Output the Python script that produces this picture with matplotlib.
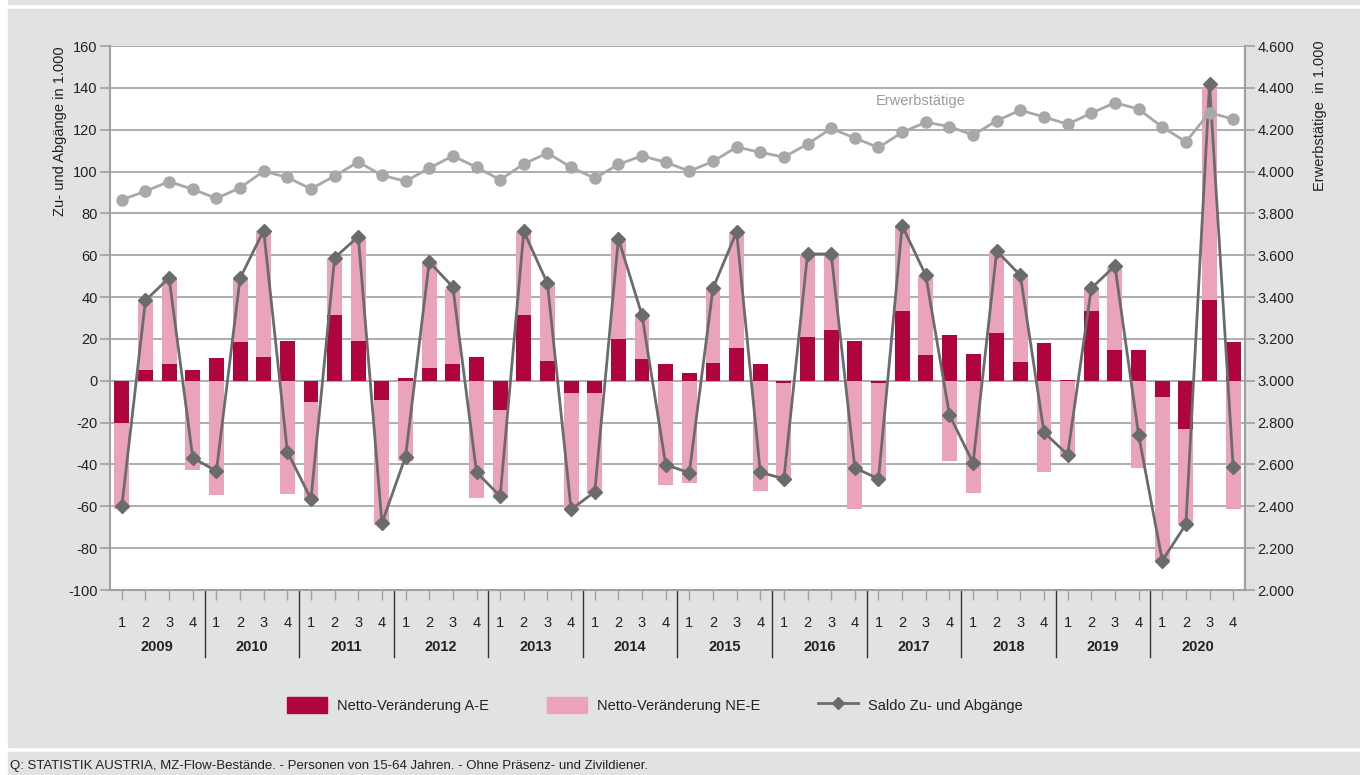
import numpy as np
import matplotlib
matplotlib.use("Agg")
from matplotlib import pyplot as plt
from matplotlib import ticker as tck
from matplotlib.patches import Rectangle
from matplotlib.lines import Line2D
from matplotlib.transforms import blended_transform_factory

plt.rcParams['font.family'] = ['Liberation Sans Narrow', 'Liberation Sans', 'DejaVu Sans']
plt.rcParams['axes.unicode_minus'] = False

"""Data, read off the picture (in 1.000)"""

years = ["2009", "2010", "2011", "2012", "2013", "2014",
         "2015", "2016", "2017", "2018", "2019", "2020"]
quarters = ["1", "2", "3", "4"]

# Netto-Veränderung A-E
ae = [-20.2, 5.0, 8.2, 5.0,
      10.7, 18.3, 11.5, 18.8,
      -10.3, 31.3, 18.8, -9.1,
      1.1, 5.9, 8.2, 11.5,
      -14.2, 31.3, 9.4, -6.0,
      -6.0, 19.9, 10.3, 8.2,
      3.9, 8.7, 15.5, 8.2,
      -1.2, 20.8, 24.2, 19.2,
      -1.2, 33.2, 12.1, 21.7,
      12.8, 22.9, 9.2, 18.1,
      0.5, 33.2, 14.9, 14.9,
      -7.6, -22.9, 38.5, 18.5]

# Netto-Veränderung NE-E
ne = [-40.9, 33.0, 40.5, -42.5,
      -54.4, 30.7, 60.2, -54.0,
      -46.7, 27.2, 49.7, -59.9,
      -38.4, 50.3, 35.7, -55.8,
      -41.6, 39.8, 36.8, -56.0,
      -48.0, 46.9, 20.6, -49.6,
      -48.7, 35.2, 55.4, -52.6,
      -46.0, 39.8, 36.4, -61.5,
      -46.0, 40.3, 38.0, -38.4,
      -53.5, 38.7, 41.2, -43.7,
      -36.6, 10.7, 39.6, -41.6,
      -79.2, -46.2, 101.6, -61.1]

# Saldo Zu- und Abgänge
saldo = [-60.0, 38.4, 49.2, -36.8,
         -43.2, 49.0, 71.8, -33.9,
         -56.5, 58.8, 68.9, -68.0,
         -36.2, 56.8, 44.8, -43.7,
         -55.2, 71.4, 46.5, -61.5,
         -53.1, 67.9, 31.3, -40.1,
         -44.0, 44.2, 71.2, -43.7,
         -46.9, 60.6, 60.6, -41.6,
         -46.9, 74.1, 50.4, -16.3,
         -39.3, 62.0, 50.4, -24.7,
         -35.3, 44.2, 54.9, -25.9,
         -86.0, -68.6, 141.9, -41.4]

# Erwerbstätige (right axis)
erw = [3865, 3906, 3952, 3915,
       3872, 3922, 4002, 3972,
       3917, 3979, 4046, 3982,
       3954, 4016, 4075, 4020,
       3961, 4036, 4089, 4020,
       3968, 4034, 4075, 4044,
       4002, 4048, 4117, 4092,
       4069, 4131, 4206, 4160,
       4115, 4187, 4236, 4215,
       4174, 4243, 4293, 4261,
       4226, 4279, 4329, 4298,
       4213, 4142, 4282, 4250]

"""Colours"""
c_ae = "#b0043f"
c_ne = "#eaa3b9"
c_saldo = "#6a6b6d"
c_erw = "#a7a8ac"
c_bg = "#e1e2e4"
c_axis = "#a0a0a0"
c_text = "#222222"

W, H = 1360, 775
fig = plt.figure(figsize=(W / 100, H / 100), dpi=100, facecolor="white")

"""Grey panels behind the chart"""
fig.patches.append(Rectangle((8 / W, 1 - 4 / H), 1, 4 / H, transform=fig.transFigure,
                             color=c_bg, zorder=-10))
fig.patches.append(Rectangle((8 / W, 1 - 747 / H), 1, (747 - 9) / H, transform=fig.transFigure,
                             color=c_bg, zorder=-10))
fig.patches.append(Rectangle((8 / W, 0), 1, (775 - 752) / H, transform=fig.transFigure,
                             color=c_bg, zorder=-10))

ax = fig.add_axes([110 / W, 1 - 590 / H, (1245 - 110) / W, (590 - 46) / H])
ax.set_facecolor("white")

x = np.arange(len(ae))

# stacked like Excel: positives on positives, negatives on negatives
ne_bottom = [a if a * n > 0 else 0 for a, n in zip(ae, ne)]

bw = 0.63
ax.bar(x, ae, width=bw, color=c_ae, zorder=2, label="Netto-Veränderung A-E")
ax.bar(x, ne, width=bw, bottom=ne_bottom, color=c_ne, zorder=2, label="Netto-Veränderung NE-E")
ax.plot(x, saldo, color=c_saldo, lw=2, marker="D", markersize=7, zorder=3,
        label="Saldo Zu- und Abgänge")

ax.set_xlim(-0.5, len(ae) - 0.5)
ax.set_ylim(-100, 160)
ax.yaxis.set_major_locator(tck.MultipleLocator(20))
ax.grid(axis="y", color=c_axis, lw=1.2, zorder=0)
ax.set_axisbelow(True)

ax.spines["top"].set_visible(False)
for side in ["left", "right", "bottom"]:
    ax.spines[side].set_color(c_axis)
    ax.spines[side].set_linewidth(1.5)

ax.tick_params(axis="y", direction="out", length=7, width=1.2, color=c_axis,
               labelsize=10.5, labelcolor=c_text, pad=2)
ax.set_xticks(x)
ax.set_xticklabels([quarters[i % 4] for i in x])
ax.tick_params(axis="x", direction="out", length=7, width=1.0, color=c_axis,
               labelsize=10.5, labelcolor=c_text, pad=12)

"""Year labels and separators under the axis"""
trans = blended_transform_factory(ax.transData, ax.transAxes)
for k, yr in enumerate(years):
    ax.text(4 * k + 1.5, -0.105, yr, transform=trans, ha="center", va="center",
            fontsize=10.5, fontweight="bold", color=c_text)
    if k > 0:
        ax.plot([4 * k - 0.5, 4 * k - 0.5], [0, -0.123], transform=trans,
                color="#333333", lw=1, clip_on=False)

ax.text(-0.044, 1.0, "Zu- und Abgänge in 1.000", transform=ax.transAxes,
        rotation=90, ha="center", va="top", fontsize=10.5, color=c_text)

"""Right axis with Erwerbstätige"""
ax2 = ax.twinx()
ax2.plot(x, erw, color=c_erw, lw=2, marker="o", markersize=8, zorder=4)
ax2.set_ylim(2000, 4600)
ax2.yaxis.set_major_locator(tck.MultipleLocator(200))
ax2.yaxis.set_major_formatter(tck.FuncFormatter(lambda v, p: f"{int(v):,}".replace(",", ".")))
ax2.tick_params(axis="y", direction="out", length=7, width=1.2, color=c_axis,
                labelsize=10.5, labelcolor=c_text, pad=2)
for side in ["top", "left", "bottom"]:
    ax2.spines[side].set_visible(False)
ax2.spines["right"].set_color(c_axis)
ax2.spines["right"].set_linewidth(1.5)

ax2.text(1.066, 1.01, "Erwerbstätige  in 1.000", transform=ax.transAxes,
         rotation=90, ha="center", va="top", fontsize=10.5, color=c_text)

ax2.text(33.8, 4335, "Erwerbstätige", ha="center", va="center", fontsize=10.5, color="#9a9b9f")

"""Legend"""
handles = [Rectangle((0, 0), 1, 1, color=c_ae),
           Rectangle((0, 0), 1, 1, color=c_ne),
           Line2D([], [], color=c_saldo, lw=2, marker="D", markersize=6)]
labels = ["Netto-Veränderung A-E", "Netto-Veränderung NE-E", "Saldo Zu- und Abgänge"]
fig.legend(handles, labels, loc="center", bbox_to_anchor=(655 / W, 1 - 705 / H), ncol=3,
           frameon=False, fontsize=10.5, handlelength=2.7, handleheight=1.3,
           handletextpad=0.7, columnspacing=4.0, labelcolor=c_text)

"""Source line"""
fig.text(10 / W, 1 - 766 / H,
         "Q: STATISTIK AUSTRIA, MZ-Flow-Bestände. - Personen von 15-64 Jahren. - Ohne Präsenz- und Zivildiener.",
         ha="left", va="center", fontsize=9.5, color=c_text)

fig.savefig("out.png", dpi=100, facecolor=fig.get_facecolor())
